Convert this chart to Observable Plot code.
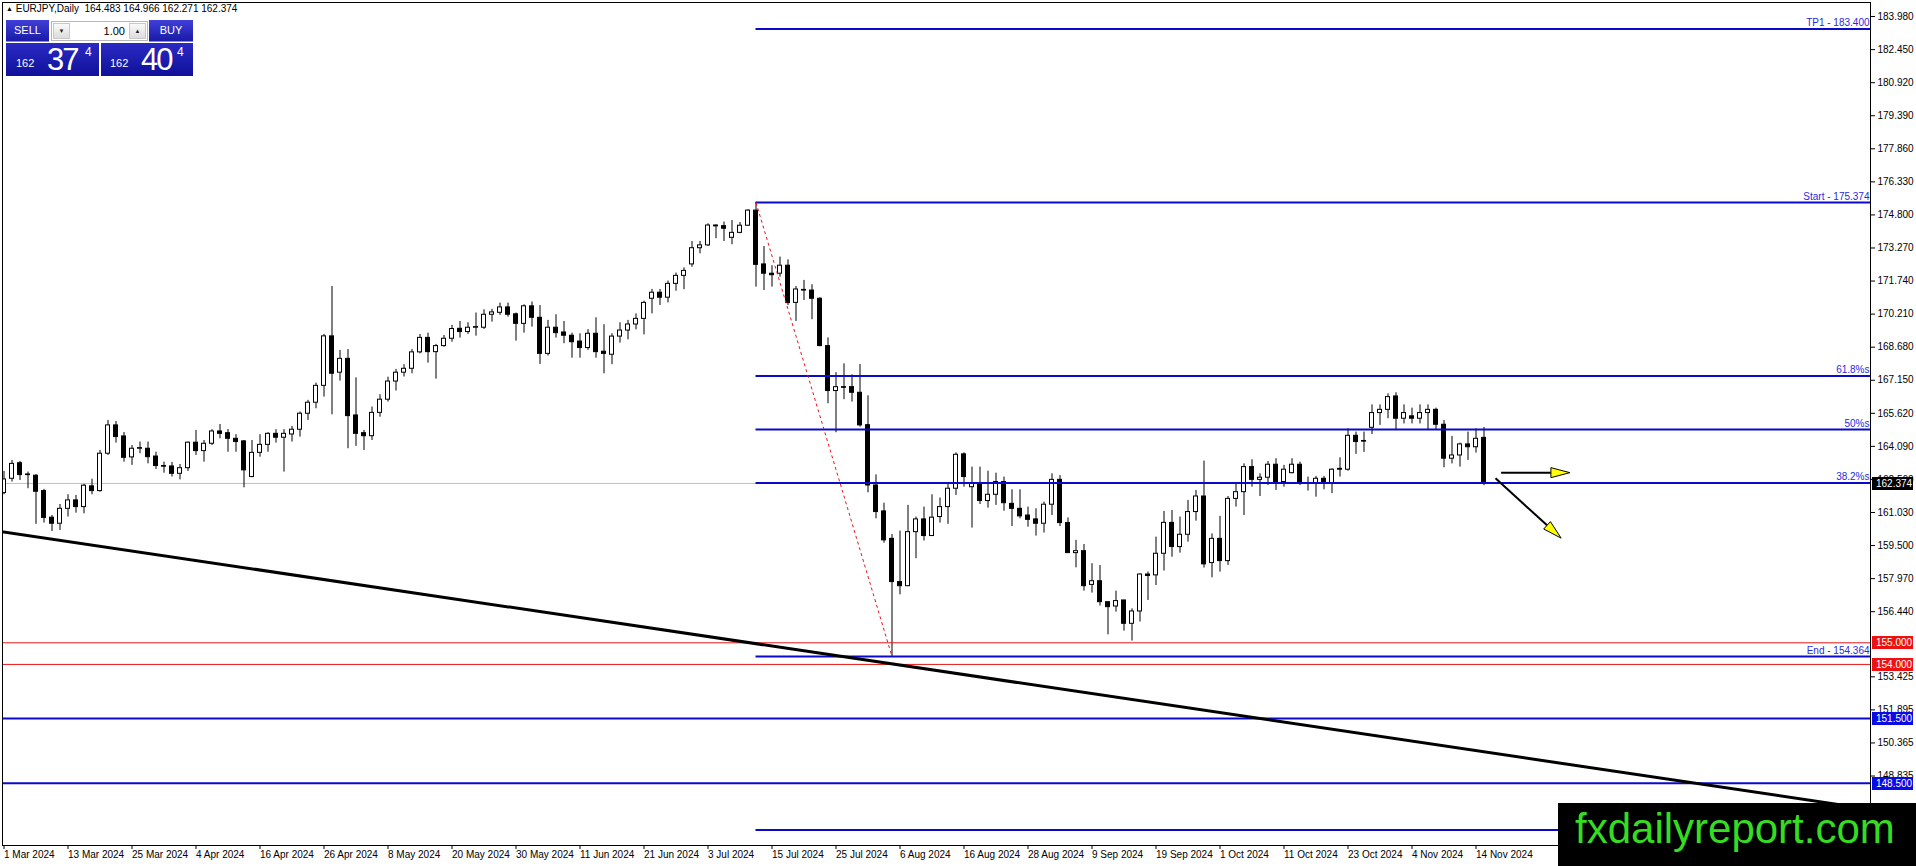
<!DOCTYPE html>
<html>
<head>
<meta charset="utf-8">
<script src="https://cdn.jsdelivr.net/npm/d3@7"></script>
<script src="https://cdn.jsdelivr.net/npm/@observablehq/plot@0.6"></script>
<style>
  html, body { margin: 0; padding: 0; background: #fff; overflow: hidden; }
  #wrap { position: relative; width: 1916px; height: 866px; }
  #chart svg { display: block; }
  .ov { position: absolute; font-family: "Liberation Sans", Arial, sans-serif; }
  #hdr { left: 6px; top: 3px; font-size: 10px; white-space: pre; color: #000; }
  #hdr .tri { font-size: 7px; vertical-align: 1px; }
  .btn { background: linear-gradient(#4040d8, #1a1aa6); color: #fff; font-size: 11px; text-align: center; line-height: 21px; border-bottom: 1px solid #8a8ae8; box-sizing: border-box; }
  #lot { left: 51px; top: 21px; width: 97px; height: 20px; background: #fff; border: 1px solid #b8b8b8; box-sizing: border-box; }
  .arr { position: absolute; top: 1px; width: 17px; height: 16px; background: linear-gradient(#fafafa, #dcdcdc); border: 1px solid #c8c8c8; box-sizing: border-box; font-size: 6px; text-align: center; line-height: 14px; color: #222; }
  .pbox { background: linear-gradient(#2a2ac4, #10109a); color: #fff; }
  .pbox span { position: absolute; font-family: "Liberation Sans", Arial, sans-serif; }
  #wm { left: 1558px; top: 803px; width: 358px; height: 63px; background: #000; }
  #wm span { position: absolute; left: 17px; top: 4.5px; font-size: 42px; line-height: 42px; color: #35dc22; font-family: "Liberation Sans", Arial, sans-serif; }
</style>
</head>
<body>
<div id="wrap">
  <div id="chart"></div>
  <div id="hdr" class="ov"><span class="tri">▲</span> EURJPY,Daily  164.483 164.966 162.271 162.374</div>
  <div class="ov btn" style="left:6px;top:20px;width:43px;height:22px;">SELL</div>
  <div id="lot" class="ov">
    <div class="arr" style="left:1px;">▼</div>
    <div style="position:absolute;right:22px;top:0;font-size:11px;line-height:18px;">1.00</div>
    <div class="arr" style="right:1px;">▲</div>
  </div>
  <div class="ov btn" style="left:149px;top:20px;width:44px;height:22px;">BUY</div>
  <div class="ov pbox" style="left:6px;top:43px;width:93px;height:33px;">
    <span style="left:10px;top:14px;font-size:11px;">162</span>
    <span style="left:41px;top:-1px;font-size:31px;letter-spacing:-2px;font-weight:300;">37</span>
    <span style="left:79px;top:2px;font-size:12px;">4</span>
  </div>
  <div class="ov pbox" style="left:101px;top:43px;width:92px;height:33px;">
    <span style="left:9px;top:14px;font-size:11px;">162</span>
    <span style="left:40px;top:-1px;font-size:31px;letter-spacing:-2px;font-weight:300;">40</span>
    <span style="left:76px;top:2px;font-size:12px;">4</span>
  </div>
  <div id="wm" class="ov"><span>fxdailyreport.com</span></div>
</div>
<script>
// ---------- DATA (daily bars, 1 Mar 2024 .. 15 Nov 2024, one per trading day) ----------
const openP = [
161.93,162.59,163.31,162.79,162.73,162.02,160.79,160.51,161.20,161.59,
161.28,162.24,162.02,163.75,165.06,164.55,163.58,163.98,163.98,163.62,
163.18,163.16,162.82,163.08,164.26,163.87,164.21,164.78,164.70,164.44,
164.32,162.67,163.79,164.16,164.67,164.49,164.64,164.86,165.60,166.11,
166.89,169.18,167.50,168.14,165.52,164.70,164.56,165.64,166.25,167.09,
167.50,167.68,168.44,169.11,168.45,168.73,169.07,169.53,169.38,169.58,
169.58,170.18,170.27,170.52,170.20,169.76,170.57,170.04,168.37,169.58,
169.36,169.21,168.94,168.64,169.30,168.47,168.33,169.17,169.45,169.73,
169.99,170.92,171.20,170.97,171.61,171.98,172.51,173.26,173.39,174.31,
174.28,173.74,173.97,174.30,175.00,172.51,172.08,172.08,172.45,170.73,
171.33,171.30,170.92,168.73,166.65,166.83,166.83,166.57,165.07,162.28,
161.08,159.81,157.81,157.62,160.12,160.71,159.94,160.82,161.28,162.13,
163.72,162.20,162.36,161.56,161.85,162.44,161.43,161.20,160.89,160.71,
160.51,161.39,162.54,160.54,159.15,159.24,157.68,157.85,156.88,156.68,
156.96,155.88,156.45,158.16,158.12,159.12,160.55,159.43,160.00,161.05,
161.77,158.69,159.81,158.78,161.66,161.97,163.13,162.54,162.64,163.24,
162.44,162.85,163.24,162.39,162.36,162.59,162.39,163.05,163.01,164.58,
164.34,164.95,165.63,165.78,166.40,165.37,165.48,165.37,165.63,165.78,
165.09,163.52,163.67,164.18,164.05,164.483];
const highP = [
162.93,163.44,163.39,162.90,162.79,162.10,160.89,161.40,161.85,161.82,
162.33,162.57,163.90,165.29,165.24,164.73,164.13,164.29,164.29,163.82,
163.36,163.35,163.25,164.29,164.83,164.36,164.86,165.10,164.87,164.63,
164.36,164.36,164.63,164.72,164.86,164.86,165.01,165.68,166.22,167.02,
169.27,171.49,168.53,168.57,167.26,164.83,165.91,166.48,167.29,167.65,
167.87,168.57,169.27,169.33,168.81,169.22,169.69,169.87,169.81,170.26,
170.41,170.43,170.72,170.72,170.26,170.64,170.77,170.61,169.92,170.18,
169.87,169.33,169.30,169.49,170.04,169.72,169.30,169.81,169.92,170.22,
170.81,171.35,171.35,171.74,172.11,172.35,173.57,173.57,174.39,174.34,
174.47,174.54,174.45,175.04,175.374,173.34,172.45,172.85,172.72,171.49,
171.77,171.57,170.97,169.11,167.50,167.91,167.40,167.88,166.43,162.77,
161.46,160.01,160.17,161.36,160.82,161.28,161.85,161.70,162.36,163.79,
163.79,163.13,163.13,162.94,162.85,162.67,162.08,162.08,161.28,161.20,
161.51,162.82,162.74,160.78,159.74,159.55,158.66,158.58,156.90,157.39,
156.96,156.57,158.19,158.27,159.89,161.08,161.12,160.82,161.59,162.05,
163.41,160.04,160.85,161.77,162.36,163.28,163.47,162.82,163.39,163.52,
163.21,163.52,163.36,162.67,162.70,162.70,163.05,163.56,164.90,164.75,
164.75,166.01,166.01,166.52,166.57,166.01,165.86,166.01,166.01,165.86,
165.29,164.55,164.24,164.75,164.90,164.966];
const lowP = [
161.85,162.44,162.51,162.13,160.48,160.54,160.15,160.20,160.82,161.00,
160.97,161.85,161.97,163.67,164.24,163.36,163.21,163.75,163.28,163.02,
162.85,162.67,162.54,162.93,163.67,163.36,164.13,164.44,163.82,163.82,
162.17,162.64,163.59,163.82,164.24,162.90,164.29,164.52,165.29,165.83,
166.37,165.55,167.11,163.98,164.09,163.90,164.36,165.44,166.14,166.65,
167.30,167.45,168.37,167.94,167.20,168.68,168.91,169.10,169.27,169.19,
169.50,169.84,170.15,170.07,168.96,169.33,169.61,167.88,168.27,169.10,
168.84,168.17,168.17,168.53,168.17,167.45,167.87,168.87,169.02,169.48,
169.25,170.22,170.61,170.73,171.27,171.34,172.38,173.00,173.34,173.70,
173.57,173.42,173.93,174.27,171.46,171.30,171.46,171.92,170.61,169.87,
170.84,169.95,168.70,166.06,164.72,166.25,166.14,164.98,161.94,160.74,
159.61,154.364,157.22,157.60,158.89,159.71,159.94,160.54,160.48,161.82,
162.20,160.31,161.40,161.23,161.36,161.09,160.38,160.74,160.35,159.94,
160.08,160.89,160.38,159.15,158.47,157.39,157.30,156.70,155.37,156.42,
155.54,155.08,155.96,156.96,157.65,158.32,158.96,159.15,159.66,160.63,
158.46,158.01,158.27,158.58,161.28,160.89,162.20,161.77,162.28,162.05,
162.20,162.82,162.28,162.02,161.74,162.08,161.90,162.67,162.94,163.72,
163.81,164.64,165.06,165.37,164.86,165.13,165.13,165.13,164.86,164.86,
163.10,163.28,163.13,163.44,163.78,162.271];
const closeP = [
162.56,163.28,162.76,162.77,161.99,160.78,160.51,161.20,161.59,161.28,
162.27,162.02,163.75,165.06,164.52,163.56,163.98,163.99,163.59,163.18,
163.17,162.82,163.08,164.26,163.87,164.21,164.78,164.67,164.44,164.29,
162.98,163.79,164.16,164.67,164.49,164.67,164.86,165.60,166.11,166.89,
169.18,167.45,168.14,165.49,164.67,164.56,165.64,166.25,167.09,167.50,
167.68,168.44,169.11,168.45,168.73,169.07,169.52,169.38,169.58,169.59,
170.18,170.29,170.52,170.18,169.76,170.57,170.04,168.37,169.58,169.33,
169.21,168.91,168.64,169.30,168.45,168.37,169.17,169.45,169.73,169.99,
170.73,171.20,170.97,171.61,171.98,172.21,173.26,173.39,174.31,174.27,
174.16,173.97,174.30,175.00,172.49,172.08,172.01,172.45,170.72,171.35,
171.32,170.92,168.73,166.65,166.83,166.82,166.57,165.06,162.28,161.05,
159.74,157.81,157.62,160.12,160.71,159.94,160.79,161.28,162.13,163.70,
162.67,162.36,161.56,161.85,162.44,161.46,161.20,160.85,160.69,160.51,
161.39,162.54,160.54,159.15,159.24,157.62,157.85,156.88,156.65,156.93,
155.88,156.45,158.16,158.09,159.12,160.55,159.43,160.00,161.05,161.77,
158.63,159.81,158.78,161.66,161.97,163.13,162.54,162.64,163.24,162.44,
163.01,163.24,162.44,162.38,162.59,162.39,163.01,163.01,164.58,164.29,
164.33,165.63,165.78,166.37,165.37,165.63,165.37,165.63,165.78,165.09,
163.52,163.67,164.18,164.05,164.44,162.374];

// time axis: bar index of each label, and its text
const xTickBars = [0,8,16,24,32,40,48,56,64,72,80,88,96,104,112,120,128,136,144,152,160,168,176,184];
const xTickLabels = ["1 Mar 2024","13 Mar 2024","25 Mar 2024","4 Apr 2024","16 Apr 2024","26 Apr 2024",
  "8 May 2024","20 May 2024","30 May 2024","11 Jun 2024","21 Jun 2024","3 Jul 2024","15 Jul 2024",
  "25 Jul 2024","6 Aug 2024","16 Aug 2024","28 Aug 2024","9 Sep 2024","19 Sep 2024","1 Oct 2024",
  "11 Oct 2024","23 Oct 2024","4 Nov 2024","14 Nov 2024"];
// price axis labels
const yTickValues = [183.980,182.450,180.920,179.390,177.860,176.330,174.800,173.270,171.740,170.210,
  168.680,167.150,165.620,164.090,162.560,161.030,159.500,157.970,156.440,153.425,151.895,150.365,148.835];

// Fibonacci tool (anchored from bar 94 high to bar 111 low)
const fibStartBar = 94, fibEndBar = 111;
const fibLevels = [183.400, 175.374, 167.348, 164.869, 162.390, 154.364, 146.340];
const fibLabels = ["TP1 - 183.400", "Start - 175.374", "61.8%s", "50%s", "38.2%s", "End - 154.364", ""];
// horizontal levels across the whole chart
const redLevels = [155.000, 154.000];
const blueLevels = [151.500, 148.500];
const lastPrice = 162.374;
// long trend line anchors [bar, price]
const trendBars = [-0.4, 234];
const trendPrices = [160.15, 147.26];
// projection arrows [from bar, from price, to bar, to price]
const arrowFromBar = [187.2, 186.5];
const arrowFromPrice = [162.85, 162.59];
const arrowToBar = [195.8, 194.7];
const arrowToPrice = [162.85, 159.82];

// ---------- BUILD ----------
const bars = openP.map((o, i) => ({i, o, h: highP[i], l: lowP[i], c: closeP[i]}));
const fib = fibLevels.map((v, k) => ({v, label: fibLabels[k]}));
const trend = trendBars.map((b, k) => ({b, p: trendPrices[k]}));
const arrows = arrowFromBar.map((b, k) => ({x1: b, y1: arrowFromPrice[k], x2: arrowToBar[k], y2: arrowToPrice[k]}));

const W = 1916, H = 866;
const mL = 2, mR = 46, mT = 2, mB = 21;
const barPx = 8;
const x0 = -0.1875;
const xDomain = [x0, x0 + (W - mL - mR) / barPx];
const yDomain = [145.62, 184.63];

const BLUE = "#0a0ac8", RED = "#e81414", FIBTXT = "#2a2ae0";

function arrowMarks(index, scales) {
  const g = d3.create("svg:g");
  const headLen = 19, headHalf = 5;
  for (const a of arrows) {
    const ax = scales.x(a.x1), ay = scales.y(a.y1), bx = scales.x(a.x2), by = scales.y(a.y2);
    const len = Math.hypot(bx - ax, by - ay), ux = (bx - ax) / len, uy = (by - ay) / len;
    const cx = bx - ux * headLen, cy = by - uy * headLen, nx = -uy, ny = ux;
    g.append("line").attr("x1", ax).attr("y1", ay).attr("x2", cx).attr("y2", cy)
      .attr("stroke", "black").attr("stroke-width", 2);
    g.append("polygon")
      .attr("points", `${bx},${by} ${cx + nx * headHalf},${cy + ny * headHalf} ${cx - nx * headHalf},${cy - ny * headHalf}`)
      .attr("fill", "#ffff00").attr("stroke", "black").attr("stroke-width", 1);
  }
  return g.node();
}

function priceBoxes(index, scales, values, dimensions) {
  const g = d3.create("svg:g").attr("text-anchor", "start");
  const left = dimensions.width - dimensions.marginRight + 2;
  const items = [
    ...redLevels.map(v => ({v, fill: "#ee1111"})),
    ...blueLevels.map(v => ({v, fill: "#0a0ae6"})),
    {v: lastPrice, fill: "#000000"}
  ];
  for (const it of items) {
    const y = Math.round(scales.y(it.v));
    g.append("rect").attr("x", left).attr("y", y - 6).attr("width", 41).attr("height", 13).attr("fill", it.fill);
    g.append("text").attr("x", left + 4).attr("y", y).attr("dy", "0.36em").attr("fill", "white")
      .attr("text-anchor", "start")
      .attr("font-size", 10).attr("font-family", "Liberation Sans, Arial, sans-serif").text(it.v.toFixed(3));
  }
  return g.node();
}

const chart = Plot.plot({
  width: W, height: H,
  marginLeft: mL, marginRight: mR, marginTop: mT, marginBottom: mB,
  x: {type: "linear", domain: xDomain},
  y: {type: "linear", domain: yDomain},
  style: {fontFamily: "Liberation Sans, Arial, sans-serif", fontSize: "10px", background: "white", color: "black", overflow: "visible"},
  marks: [
    Plot.ruleY([lastPrice], {stroke: "#c0c0c0", strokeWidth: 1}),
    // candles
    Plot.ruleX(bars, {x: "i", y1: "l", y2: "h", stroke: "black", strokeWidth: 1, clip: true}),
    Plot.rect(bars.filter(d => d.c >= d.o), {
      x1: d => d.i - 0.25, x2: d => d.i + 0.25,
      y1: d => d.o, y2: d => Math.max(d.c, d.o + 0.03),
      fill: "white", stroke: "black", strokeWidth: 1, clip: true}),
    Plot.rect(bars.filter(d => d.c < d.o), {
      x1: d => d.i - 0.25, x2: d => d.i + 0.25,
      y1: d => Math.min(d.c, d.o - 0.03), y2: d => d.o,
      fill: "black", stroke: "black", strokeWidth: 1, clip: true}),
    // levels
    Plot.ruleY(redLevels, {stroke: RED, strokeWidth: 1}),
    Plot.ruleY(blueLevels, {stroke: BLUE, strokeWidth: 2}),
    Plot.ruleY(fib, {y: "v", x1: fibStartBar, x2: xDomain[1], stroke: BLUE, strokeWidth: 2}),
    Plot.line(trend, {x: "b", y: "p", stroke: "black", strokeWidth: 3, clip: true}),
    Plot.link([0], {x1: fibStartBar, y1: fibLevels[1], x2: fibEndBar, y2: fibLevels[5],
      stroke: RED, strokeWidth: 1, strokeDasharray: "3,3"}),
    Plot.text(fib, {x: xDomain[1], y: "v", text: "label", textAnchor: "end", dx: -1, dy: -6,
      fill: FIBTXT, fontSize: 10}),
    arrowMarks,
    Plot.frame({stroke: "black"}),
    Plot.axisX({ticks: xTickBars, tickFormat: d => xTickLabels[xTickBars.indexOf(d)],
      tickSize: 4, tickPadding: 1, textAnchor: "start", label: null, anchor: "bottom"}),
    Plot.axisY({anchor: "right", ticks: yTickValues, tickFormat: d => d.toFixed(3),
      tickSize: 4, tickPadding: 3, label: null}),
    priceBoxes
  ]
});
document.getElementById("chart").appendChild(chart);
</script>
</body>
</html>
